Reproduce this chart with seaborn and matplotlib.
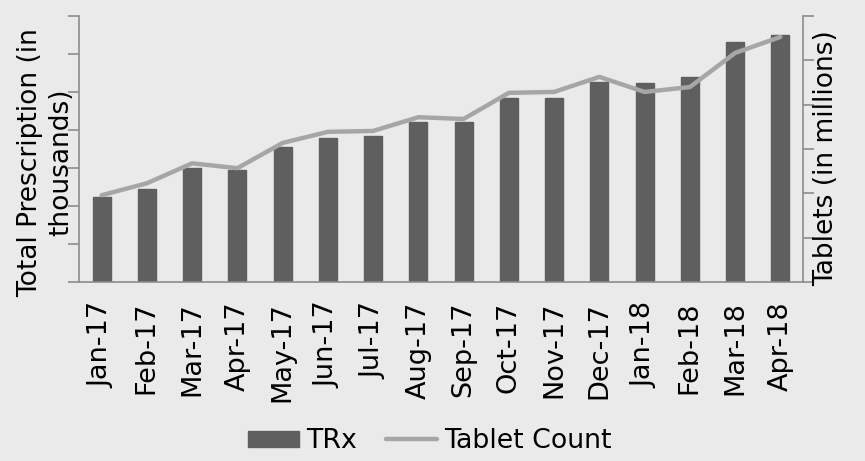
import numpy as np
import pandas as pd
import seaborn as sns
import matplotlib
matplotlib.use("Agg")
import matplotlib.pyplot as plt
from matplotlib.patches import Patch
from matplotlib.lines import Line2D

months = ["Jan-17", "Feb-17", "Mar-17", "Apr-17", "May-17", "Jun-17", "Jul-17", "Aug-17",
          "Sep-17", "Oct-17", "Nov-17", "Dec-17", "Jan-18", "Feb-18", "Mar-18", "Apr-18"]
trx = [2.23, 2.45, 3.0, 2.95, 3.55, 3.79, 3.84, 4.21,
       4.21, 4.84, 4.84, 5.26, 5.24, 5.39, 6.32, 6.5]
tablets = [1.96, 2.23, 2.68, 2.57, 3.14, 3.39, 3.41, 3.72,
           3.68, 4.27, 4.29, 4.63, 4.29, 4.40, 5.17, 5.53]

df = pd.DataFrame({"month": months, "trx": trx, "tablets": tablets})
df["pos"] = np.arange(len(df))

bg = "#eaeaea"
spine_col = "#8c8c8c"
bar_col = "#5f5f5f"
line_col = "#a6a6a6"
text_col = "#000000"

sns.set_style("white")
plt.rcParams["font.family"] = ["DejaVu Sans"]
plt.rcParams["text.color"] = text_col
plt.rcParams["axes.labelcolor"] = text_col
plt.rcParams["xtick.labelcolor"] = text_col

fig = plt.figure(figsize=(8.65, 4.61), dpi=100, facecolor=bg)
ax = fig.add_axes([0.0913, 0.388, 0.837, 0.577])
ax.set_facecolor(bg)

sns.barplot(data=df, x="month", y="trx", color=bar_col, width=0.4,
            saturation=1, ax=ax, edgecolor=bar_col)
ax.set_xlim(-0.5, len(df) - 0.5)
ax.set_ylim(0, 7)
ax.set_yticks(np.arange(0, 8, 1))
ax.set_yticklabels([])
ax.set_xticks(df["pos"])
ax.set_xticklabels(months, rotation=90, fontsize=19.5, color=text_col)
ax.set_xticks(np.arange(-0.5, len(df), 1), minor=True)
ax.tick_params(axis="x", which="major", length=0, pad=14)
ax.tick_params(axis="x", which="minor", length=8, color=spine_col, width=1.2)
ax.tick_params(axis="y", length=8, color=spine_col, width=1.2, left=True)
ax.set_xlabel("")
ax.set_ylabel("Total Prescription (in\nthousands)", fontsize=19, linespacing=1.25,
              color=text_col)
ax.yaxis.set_label_coords(-0.007, 0.45)

ax2 = ax.twinx()
sns.lineplot(data=df, x="pos", y="tablets", color=line_col, linewidth=3.2,
             sort=False, ax=ax2)
ax2.set_ylim(0, 6)
ax2.set_yticks(np.arange(0, 7, 1))
ax2.set_yticklabels([])
ax2.tick_params(axis="y", length=8, color=spine_col, width=1.2, right=True)
ax2.set_ylabel("Tablets (in millions)", fontsize=19, color=text_col)
ax2.yaxis.set_label_coords(1.014, 0.466)
ax2.set_xlim(-0.5, len(df) - 0.5)

for a in (ax, ax2):
    a.spines["top"].set_visible(False)
    for s in ("left", "right", "bottom"):
        a.spines[s].set_color(spine_col)
        a.spines[s].set_linewidth(1.2)
ax.spines["right"].set_visible(False)
ax2.spines["left"].set_visible(False)
ax2.spines["bottom"].set_visible(False)

handles = [Patch(facecolor=bar_col, edgecolor=bar_col),
           Line2D([0], [0], color=line_col, linewidth=3.2, solid_capstyle="round")]
fig.legend(handles, ["TRx", "Tablet Count"], loc="center", bbox_to_anchor=(0.497, 0.043),
           ncol=2, frameon=False, fontsize=19.3, handlelength=1.9, handleheight=0.55,
           handletextpad=0.25, columnspacing=1.1)

fig.savefig("out.png", dpi=100, facecolor=bg)
